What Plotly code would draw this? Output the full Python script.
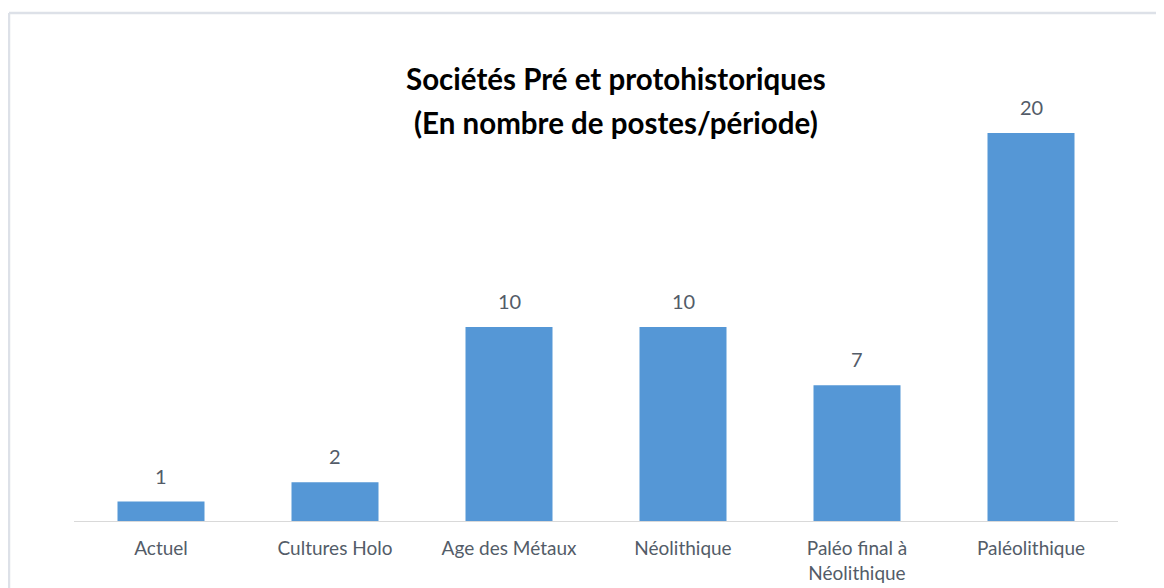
import plotly.graph_objects as go

categories = ["Actuel", "Cultures Holo", "Age des Métaux", "Néolithique",
              "Paléo final à<br>Néolithique", "Paléolithique"]
values = [1, 2, 10, 10, 7, 20]
title_lines = ["Sociétés Pré et protohistoriques", "(En nombre de postes/période)"]

label_color = "#535c68"
font_family = "Lato, 'Open Sans', sans-serif"

# page body adds an 8px offset; positions below are in figure pixels
W, H = 1164, 588
L, R, T, B = 66, 54, 32, 75
pw, ph = W - L - R, H - T - B


def px_x(x):
    return (x - L) / pw


def px_y(y):
    return (H - B - y) / ph


fig = go.Figure()
fig.add_trace(go.Bar(
    x=categories, y=values,
    marker=dict(color="#5597d6", line=dict(width=0)),
    hoverinfo="x+y",
))

# data labels above the bars
for c, v in zip(categories, values):
    fig.add_annotation(x=c, y=v, text=str(v), showarrow=False, yshift=26,
                       font=dict(size=20, color=label_color, family=font_family))

# two-line title
for text, ypx in zip(title_lines, [70, 114]):
    fig.add_annotation(x=px_x(608), y=px_y(ypx), xref="paper", yref="paper",
                       xanchor="center", yanchor="middle", text=f"<b>{text}</b>",
                       showarrow=False, font=dict(size=29.5, color="#000000", family=font_family))

# outer frame (top and left edges)
fig.add_shape(type="line", xref="paper", yref="paper",
              x0=px_x(1), x1=px_x(1170), y0=px_y(5), y1=px_y(5),
              line=dict(color="#dde1e8", width=2.5))
fig.add_shape(type="line", xref="paper", yref="paper",
              x0=px_x(1), x1=px_x(1), y0=px_y(5), y1=px_y(600),
              line=dict(color="#dde1e8", width=2.5))

fig.update_layout(
    width=W, height=H,
    margin=dict(l=L, r=R, t=T, b=B),
    plot_bgcolor="white", paper_bgcolor="white",
    bargap=0.5, showlegend=False,
    font=dict(family=font_family, color=label_color),
    xaxis=dict(showline=True, linecolor="#d9d9d9", linewidth=1, ticks="",
               ticklabelstandoff=10,
               tickfont=dict(size=19, color=label_color), showgrid=False),
    yaxis=dict(range=[0, 24.8], visible=False, showgrid=False, zeroline=False),
)

fig.write_html("out.html")
